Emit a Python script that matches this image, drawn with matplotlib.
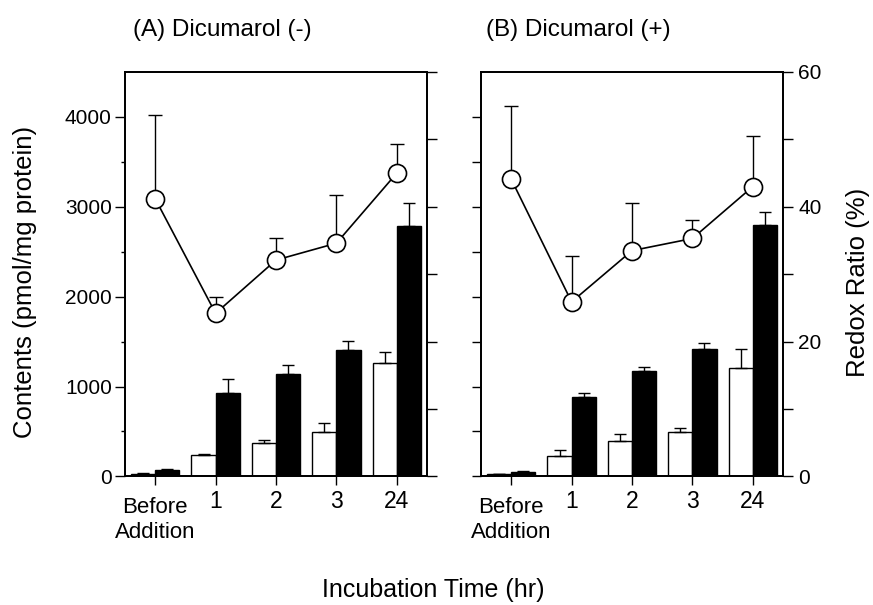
import matplotlib
matplotlib.use("Agg")
import matplotlib.pyplot as plt
import numpy as np

plt.rcParams['font.family'] = ['Liberation Sans', 'DejaVu Sans']

# time points
labels = ['Before\nAddition', '1', '2', '3', '24']

# (A) Dicumarol (-)
a_white = [30, 235, 372, 490, 1259]
a_white_err = [5, 20, 30, 100, 123]
a_black = [70, 930, 1143, 1411, 2786]
a_black_err = [10, 150, 95, 97, 253]
a_redox = [41.2, 24.2, 32.1, 34.6, 45.0]
a_redox_err = [12.4, 2.4, 3.2, 7.1, 4.3]

# (B) Dicumarol (+)
b_white = [26, 228, 391, 494, 1202]
b_white_err = [4, 62, 81, 45, 212]
b_black = [52, 885, 1168, 1414, 2801]
b_black_err = [8, 45, 49, 74, 142]
b_redox = [44.1, 25.9, 33.5, 35.3, 43.0]
b_redox_err = [10.9, 6.8, 7.0, 2.7, 7.5]

fig = plt.figure(figsize=(8.73, 6.05), dpi=100)

lw = 1.3
bw = 0.4
tick_fs = 15

def panel(rect, white, werr, black, berr, redox, rerr, left_lab, right_lab):
    ax = fig.add_axes(rect)
    x = np.arange(len(labels))
    ax.bar(x - bw/2, white, bw, color='white', edgecolor='black', linewidth=1.0,
           yerr=[np.zeros(len(werr)), werr], capsize=4.5,
           error_kw=dict(elinewidth=1.0, capthick=1.0, ecolor='black'))
    ax.bar(x + bw/2, black, bw, color='black', edgecolor='black', linewidth=1.0,
           yerr=[np.zeros(len(berr)), berr], capsize=4.5,
           error_kw=dict(elinewidth=1.0, capthick=1.0, ecolor='black'))
    ax.set_xlim(-0.5, 4.5)
    ax.set_ylim(0, 4500)
    ax.set_xticks(x)
    ax.set_xticklabels(labels, fontsize=16.5, linespacing=1.25)
    ax.set_yticks([0, 1000, 2000, 3000, 4000])
    ax.set_yticks(np.arange(500, 4500, 1000), minor=True)
    if left_lab:
        ax.tick_params(axis='y', which='major', length=7.5, width=1.0, labelsize=tick_fs, pad=2)
        ax.tick_params(axis='y', which='minor', length=3, width=1.0)
    else:
        ax.tick_params(axis='y', which='both', length=6.5, width=1.0, labelleft=False)
    ax.tick_params(axis='x', length=6.5, width=1.0, pad=3.5)
    # "Before Addition" sits a little lower and smaller than the numbers
    t0 = ax.xaxis.get_major_ticks()[0]
    t0.set_pad(8)
    t0.label1.set_fontsize(16)
    for s in ax.spines.values():
        s.set_linewidth(lw)

    ax2 = ax.twinx()
    ax2.errorbar(x, redox, yerr=[np.zeros(len(rerr)), rerr], fmt='none',
                 ecolor='black', elinewidth=1.0, capsize=5, capthick=1.0, zorder=2)
    ax2.plot(x, redox, '-', color='black', linewidth=1.2, marker='o', markersize=13,
             markerfacecolor='white', markeredgecolor='black', markeredgewidth=1.2, zorder=3)
    ax2.set_ylim(0, 60)
    ax2.set_yticks([0, 20, 40, 60])
    ax2.set_yticks([10, 30, 50], minor=True)
    ax2.tick_params(axis='y', which='both', length=7, width=1.0, labelsize=tick_fs, pad=4,
                    labelright=right_lab)
    for s in ax2.spines.values():
        s.set_linewidth(lw)
    return ax, ax2

panel([0.1432, 0.2125, 0.3459, 0.6685], a_white, a_white_err, a_black, a_black_err,
      a_redox, a_redox_err, True, False)
panel([0.5510, 0.2125, 0.3459, 0.6685], b_white, b_white_err, b_black, b_black_err,
      b_redox, b_redox_err, False, True)

fig.text(133/873, 1 - 30/605, '(A) Dicumarol (-)', fontsize=17.5, ha='left', va='center')
fig.text(486/873, 1 - 30/605, '(B) Dicumarol (+)', fontsize=17.5, ha='left', va='center')
fig.text(25/873, 1 - 282/605, 'Contents (pmol/mg protein)', fontsize=18.5,
         rotation=90, ha='center', va='center')
fig.text(858/873, 1 - 282/605, 'Redox Ratio (%)', fontsize=18.5,
         rotation=90, ha='center', va='center')
fig.text(433/873, 1 - 590/605, 'Incubation Time (hr)', fontsize=18,
         ha='center', va='center')

fig.savefig('out.png', dpi=100)
